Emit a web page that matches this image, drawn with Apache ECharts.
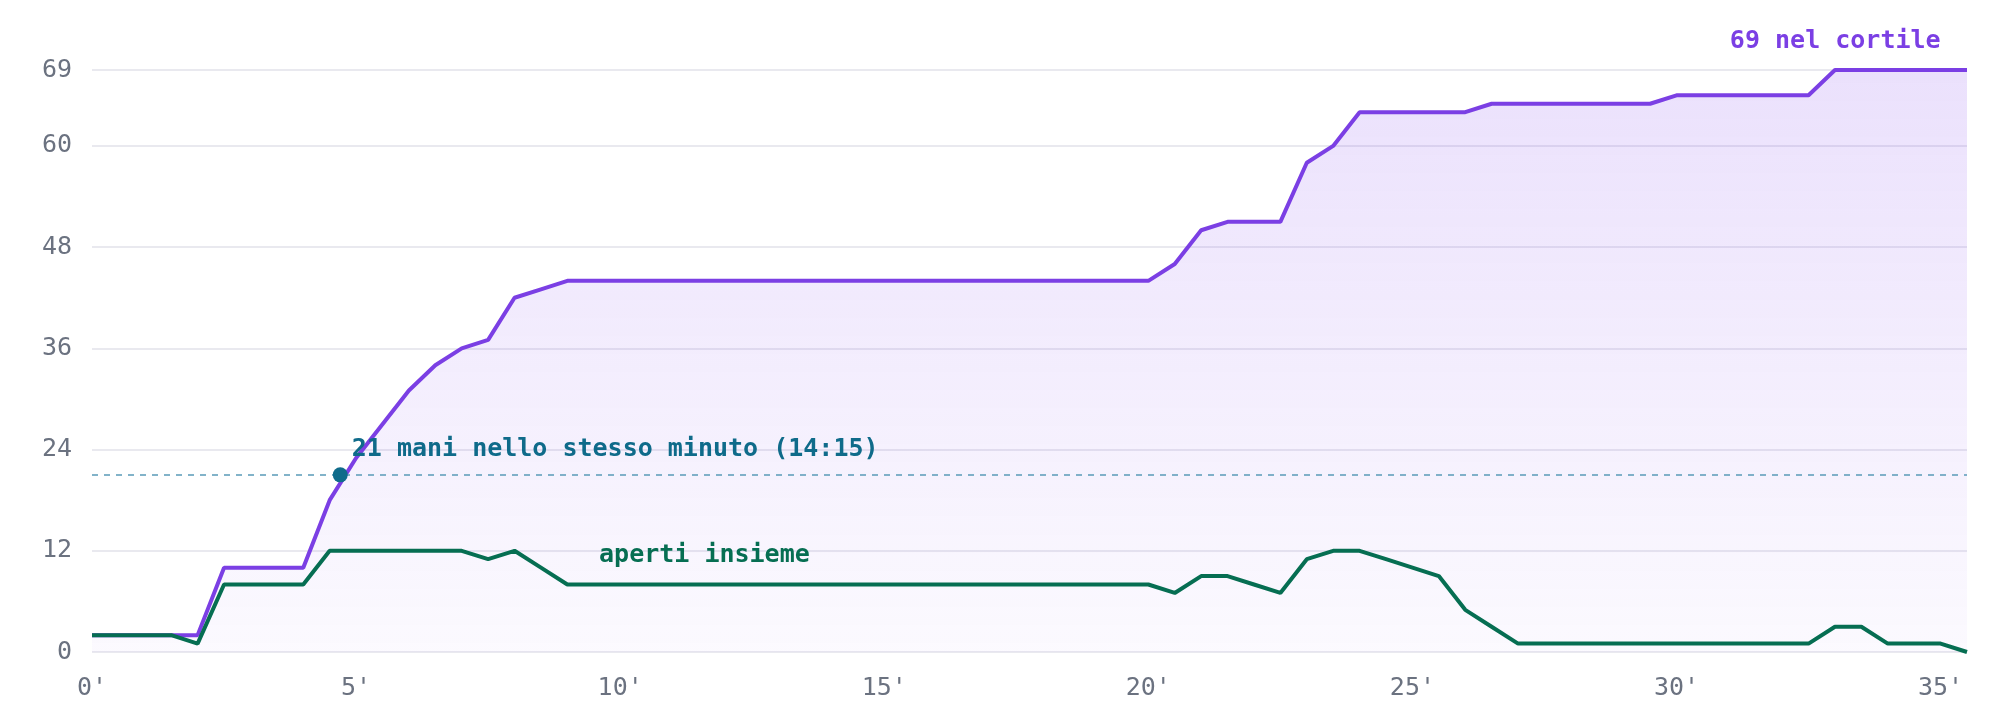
<!DOCTYPE html>
<html><head><meta charset="utf-8">
<script src="https://cdn.jsdelivr.net/npm/echarts@6/dist/echarts.min.js"></script>
<style>html,body{margin:0;padding:0;background:#fff}#c{width:2000px;height:720px}</style>
</head><body><div id="c"></div>
<script>
const minutes = [0,0.5,1,1.5,2,2.5,3,3.5,4,4.5,5,5.5,6,6.5,7,7.5,8,8.5,9,9.5,10,10.5,11,11.5,12,12.5,13,13.5,14,14.5,15,15.5,16,16.5,17,17.5,18,18.5,19,19.5,20,20.5,21,21.5,22,22.5,23,23.5,24,24.5,25,25.5,26,26.5,27,27.5,28,28.5,29,29.5,30,30.5,31,31.5,32,32.5,33,33.5,34,34.5,35,35.5];
const inCourtyard = [2,2,2,2,2,10,10,10,10,18,23,27,31,34,36,37,42,43,44,44,44,44,44,44,44,44,44,44,44,44,44,44,44,44,44,44,44,44,44,44,44,46,50,51,51,51,58,60,64,64,64,64,64,65,65,65,65,65,65,65,66,66,66,66,66,66,69,69,69,69,69,69];
const openTogether = [2,2,2,2,1,8,8,8,8,12,12,12,12,12,12,11,12,10,8,8,8,8,8,8,8,8,8,8,8,8,8,8,8,8,8,8,8,8,8,8,8,7,9,9,8,7,11,12,12,11,10,9,5,3,1,1,1,1,1,1,1,1,1,1,1,1,3,3,1,1,1,0];
const yTicks = [0,12,24,36,48,60,69];
const peak = {x:4.7, y:21, text:'21 mani nello stesso minuto (14:15)'};
const totalLabel = {x:35.0, y:69, text:'69 nel cortile'};
const togetherLabel = {x:9.6, y:11.5, text:'aperti insieme'};

const font = '"DejaVu Sans Mono", monospace';
const purple = '#7b3fe4', green = '#066e52', teal = '#0f6b8a';
const chart = echarts.init(document.getElementById('c'));
chart.setOption({
  animation:false,
  grid:{left:92,right:33,top:70,bottom:68},
  xAxis:{type:'value',min:0,max:35.5,interval:5,
    axisLine:{show:false},axisTick:{show:false},splitLine:{show:false},
    axisLabel:{fontFamily:font,fontSize:25,color:'#6b7280',margin:24,
      formatter:v=>(v%5===0?v+"'":'')}},
  yAxis:{type:'value',min:0,max:69,interval:12,
    axisLine:{show:false},axisTick:{show:false},
    splitLine:{lineStyle:{color:'#e2e2ea',width:1.5}},
    axisLabel:{fontFamily:font,fontSize:25,color:'#6b7280',margin:20,
      formatter:v=>(yTicks.includes(v)?String(v):'')}},
  series:[
    {type:'line',data:minutes.map((m,i)=>[m,inCourtyard[i]]),symbol:'none',
      lineStyle:{color:purple,width:4},
      areaStyle:{color:new echarts.graphic.LinearGradient(0,0,0,1,[
        {offset:0,color:'rgba(124,58,237,0.22)'},{offset:1,color:'rgba(124,58,237,0.04)'}])},
      markLine:{silent:true,symbol:'none',label:{show:false},
        lineStyle:{color:'#5a9ab8',type:[6,6],width:1.5},data:[{yAxis:peak.y}]},
      markPoint:{silent:true,data:[
        {coord:[peak.x,peak.y],symbol:'circle',symbolSize:15,itemStyle:{color:teal},
          label:{show:true,formatter:peak.text,position:'right',offset:[0,-25],
            fontFamily:font,fontSize:25,fontWeight:'bold',color:teal,distance:4}},
        {coord:[totalLabel.x,totalLabel.y],symbol:'circle',symbolSize:0,
          label:{show:true,formatter:totalLabel.text,position:'left',distance:0,offset:[0,-29],
            fontFamily:font,fontSize:25,fontWeight:'bold',color:purple}}
      ]}},
    {type:'line',data:minutes.map((m,i)=>[m,openTogether[i]]),symbol:'none',
      lineStyle:{color:green,width:4},
      markPoint:{silent:true,data:[
        {coord:[togetherLabel.x,togetherLabel.y],symbol:'circle',symbolSize:0,
          label:{show:true,formatter:togetherLabel.text,position:'right',distance:0,
            fontFamily:font,fontSize:25,fontWeight:'bold',color:green}}]}}
  ]
});
</script></body></html>
